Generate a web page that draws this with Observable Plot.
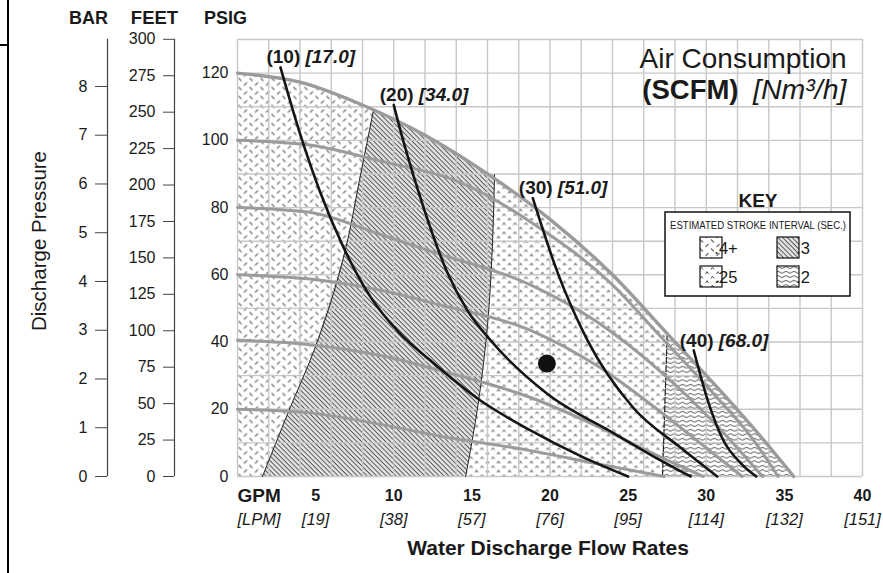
<!DOCTYPE html>
<html><head><meta charset="utf-8">
<script src="https://cdn.jsdelivr.net/npm/d3@7"></script>
<script src="https://cdn.jsdelivr.net/npm/@observablehq/plot@0.6"></script>
<style>
body{margin:0;background:#fff;}
#wrap{position:relative;width:883px;height:573px;overflow:hidden;}
#wrap svg{display:block;}
.edge{position:absolute;background:#000;}
</style></head><body>
<div id="wrap"></div>
<script>
// ---------- axis ticks & labels ----------
const psigTicks = [0, 20, 40, 60, 80, 100, 120];
const feetTicks = [0, 25, 50, 75, 100, 125, 150, 175, 200, 225, 250, 275, 300];
const barTicks = [0, 1, 2, 3, 4, 5, 6, 7, 8];
const gpmTicks = [5, 10, 15, 20, 25, 30, 35, 40];
const lpmLabels = ["[19]", "[38]", "[57]", "[76]", "[95]", "[114]", "[132]", "[151]"];
const gridGpm = [0, 2, 4, 6, 8, 10, 12, 14, 16, 18, 20, 22, 24, 26, 28, 30, 32, 34, 36, 38, 40];
const gridPsi = [0, 10, 20, 30, 40, 50, 60, 70, 80, 90, 100, 110, 120, 130];
const FT_PER_PSI = 2.3067;
const PSI_PER_BAR = 14.5038;

// ---------- performance envelope (GPM, PSIG) ----------
const envelope = [[0,120],[4,117.3],[8,110.5],[12,101.5],[16,90],[20,76.5],[24,60],[27.5,42.5],[31,25],[33.5,11.8],[35.6,0]];

// ---------- air supply pressure lines (GPM, PSIG) ----------
const air100 = [[0,100],[4.5,98.7],[9,94],[14.5,87],[19,75],[24,57],[27,42],[30.5,24.5],[33,11],[34.6,0]];
const air80  = [[0,80],[4.5,78.7],[9.15,72],[12.35,67],[18.75,57],[23,46],[27,31.5],[30.5,16],[33.6,0]];
const air60  = [[0,60],[4.5,58.8],[9.15,55.4],[13,51],[18.75,43.5],[23,33],[27,19.5],[30,8.5],[32.3,0]];
const air40  = [[0,40.5],[4.5,39.3],[9.15,36],[13,31.5],[18.75,23.5],[23,15],[26.5,7],[29.8,0]];
const air20  = [[0,20],[4.5,19],[9.15,15.5],[13,12],[18.75,7.7],[23,3.8],[27.3,0]];

// ---------- air consumption lines (GPM, PSIG) ----------
const scfm10 = [[2.75,121.7],[4,102],[5.3,84.5],[6.8,68],[8.5,53.5],[10.3,43],[12.35,34.5],[15.55,22.6],[18.75,13.7],[22,6],[25,0]];
const scfm20 = [[10,110.5],[10.6,100],[11.9,80.1],[13.4,61],[14.7,49.5],[16.2,40.5],[19.8,24.7],[24.1,12.8],[26.5,6.3],[29,0]];
const scfm30 = [[18.9,82.8],[20.5,60.5],[22.4,40.5],[25.3,20.6],[28.35,8.6],[30.7,0]];
const scfm40 = [[29.2,37.5],[30.1,22.6],[31.1,10.7],[32.2,4],[33.2,0]];
const scfmLabels = ["(10)", "(20)", "(30)", "(40)"];
const nm3Labels = ["[17.0]", "[34.0]", "[51.0]", "[68.0]"];

// ---------- stroke interval zone boundaries (top on envelope -> bottom) ----------
const bound1 = [[8.7,108.9],[7.8,88],[6.9,67.3],[4.9,37.5],[3.3,19.7],[1.6,0]];
const bound2 = [[16.45,89.8],[16.3,67],[16.0,45],[15.4,21.5],[14.6,0]];
const bound3 = [[27.5,42.5],[27.2,0]];
const keyLabels = [".4+", ".3", ".25", ".2"];
const examplePoint = [[19.8, 33.6]];

// ---------- build zone polygons from the arrays ----------
const envBetween = (a, b) => envelope.filter(p => p[0] > a && p[0] < b);
const zone4 = [[0,0], ...envelope.filter(p => p[0] < bound1[0][0]), ...bound1];
const zone3 = [...envBetween(bound1[0][0], bound2[0][0]), ...bound2, ...bound1.slice().reverse()];
const zone25 = [bound2[0], ...envBetween(bound2[0][0], bound3[0][0]), ...bound3, ...bound2.slice().reverse()];
const zone2 = [bound3[0], ...envelope.filter(p => p[0] > bound3[0][0]), ...bound3.slice().reverse()];

const labelRows = [scfm10, scfm20, scfm30, scfm40].map((s, i) => ({pt: s[0], a: scfmLabels[i], b: nm3Labels[i]}));
const X = d => d[0], Y = d => d[1];
const GRAY = "#9b9b9b", BLACK = "#151515";
const mid = {textAnchor: "middle", lineAnchor: "middle"};

const chart = Plot.plot({
  width: 883, height: 573,
  marginLeft: 237, marginRight: 21, marginTop: 39, marginBottom: 97,
  x: {domain: [0, 40], axis: null},
  y: {domain: [0, 130], axis: null},
  style: {fontFamily: "'Liberation Sans', Arial, Helvetica, sans-serif", fontSize: "16px", color: "#1a1a1a", background: "white", overflow: "visible"},
  marks: [
    // patterned zones
    Plot.line(zone4, {x: X, y: Y, fill: "url(#p4)", stroke: "none"}),
    Plot.line(zone3, {x: X, y: Y, fill: "url(#p3)", stroke: "none"}),
    Plot.line(zone25, {x: X, y: Y, fill: "url(#p25)", stroke: "none"}),
    Plot.line(zone2, {x: X, y: Y, fill: "url(#p2)", stroke: "none"}),
    // grid
    Plot.ruleX(gridGpm, {stroke: "#c8c8c8", strokeWidth: 1.4}),
    Plot.ruleY(gridPsi, {stroke: "#c8c8c8", strokeWidth: 1.4}),
    // zone boundaries
    Plot.line(bound1, {x: X, y: Y, stroke: "#222", strokeWidth: 1, curve: "monotone-y"}),
    Plot.line(bound2, {x: X, y: Y, stroke: "#222", strokeWidth: 1, curve: "monotone-y"}),
    Plot.line(bound3, {x: X, y: Y, stroke: "#222", strokeWidth: 1.2, strokeDasharray: "6,2"}),
    // air supply lines + envelope
    ...[air20, air40, air60, air80, air100].map(s => Plot.line(s, {x: X, y: Y, stroke: GRAY, strokeWidth: 3, curve: "monotone-x"})),
    Plot.line(envelope, {x: X, y: Y, stroke: GRAY, strokeWidth: 3.4, curve: "monotone-x"}),
    // air consumption lines
    ...[scfm10, scfm20, scfm30, scfm40].map(s => Plot.line(s, {x: X, y: Y, stroke: BLACK, strokeWidth: 2.6, curve: "monotone-x"})),
    Plot.dot(examplePoint, {x: X, y: Y, r: 9, fill: "#111", stroke: "none"}),
    Plot.text(labelRows, {x: d => d.pt[0], y: d => d.pt[1], text: "a", textAnchor: "start", lineAnchor: "middle", dx: -14, dy: -10, fontWeight: "bold", fontSize: 19}),
    Plot.text(labelRows, {x: d => d.pt[0], y: d => d.pt[1], text: "b", textAnchor: "start", lineAnchor: "middle", dx: 25, dy: -10, fontWeight: "bold", fontStyle: "italic", fontSize: 19}),
    // left axes
    Plot.axisY(psigTicks, {anchor: "left", tickSize: 0, tickPadding: 9, fontSize: 16, label: null}),
    Plot.axisY(feetTicks.map(f => f / FT_PER_PSI), {anchor: "left", tickSize: 11, tickPadding: 8, dx: -63, tickFormat: d => Math.round(d * FT_PER_PSI), fontSize: 16, label: null, stroke: "#444"}),
    Plot.axisY(barTicks.map(b => b * PSI_PER_BAR), {anchor: "left", tickSize: 12, tickPadding: 8, dx: -130, tickFormat: d => Math.round(d / PSI_PER_BAR), fontSize: 16, label: null, stroke: "#444"}),
    Plot.ruleX([0], {y1: 0, y2: 300 / FT_PER_PSI, dx: -63, stroke: "#444", strokeWidth: 1.2}),
    Plot.ruleX([0], {y1: 0, y2: 300 / FT_PER_PSI, dx: -130, stroke: "#444", strokeWidth: 1.2}),
    Plot.text(["BAR"], {frameAnchor: "top-left", ...mid, dx: -149, dy: -21, fontWeight: "bold", fontSize: 18}),
    Plot.text(["FEET"], {frameAnchor: "top-left", ...mid, dx: -83, dy: -21, fontWeight: "bold", fontSize: 18.5}),
    Plot.text(["PSIG"], {frameAnchor: "top-left", ...mid, dx: -12, dy: -21, fontWeight: "bold", fontSize: 18}),
    Plot.text(["Discharge Pressure"], {frameAnchor: "left", ...mid, dx: -198, dy: -17, rotate: -90, fontSize: 20.5}),
    // bottom axis
    Plot.text(gpmTicks, {x: d => d, frameAnchor: "bottom", ...mid, dy: 19, fontWeight: "bold", fontSize: 16}),
    Plot.text(gpmTicks, {x: d => d, text: (d, i) => lpmLabels[i], frameAnchor: "bottom", ...mid, dy: 43, fontStyle: "italic", fontSize: 16.5}),
    Plot.text(["GPM"], {frameAnchor: "bottom-left", textAnchor: "start", lineAnchor: "middle", dy: 19, fontWeight: "bold", fontSize: 19}),
    Plot.text(["[LPM]"], {frameAnchor: "bottom-left", textAnchor: "start", lineAnchor: "middle", dy: 43, fontStyle: "italic", fontSize: 16.5}),
    Plot.text(["Water Discharge Flow Rates"], {frameAnchor: "bottom", ...mid, dx: -2, dy: 72, fontWeight: "bold", fontSize: 21}),
    // title
    Plot.text(["Air Consumption"], {frameAnchor: "top-right", textAnchor: "end", lineAnchor: "bottom", dx: -16, dy: 28, fontSize: 28}),
    Plot.text(["(SCFM)"], {frameAnchor: "top-right", textAnchor: "end", lineAnchor: "bottom", dx: -124, dy: 59, fontSize: 27.5, fontWeight: "bold"}),
    Plot.text(["[Nm³/h]"], {frameAnchor: "top-right", textAnchor: "end", lineAnchor: "bottom", dx: -16, dy: 59, fontSize: 28.5, fontStyle: "italic"})
  ]
});

// ---------- fill patterns ----------
const svg = d3.select(chart);
const defs = svg.insert("defs", ":first-child");
const p4 = defs.append("pattern").attr("id", "p4").attr("patternUnits", "userSpaceOnUse").attr("width", 11).attr("height", 9);
p4.append("path").attr("d", "M1.5,4L4.5,1M7,5.5L10,8.5").attr("stroke", "#6a6a6a").attr("stroke-width", 1.1).attr("fill", "none");
const p3 = defs.append("pattern").attr("id", "p3").attr("patternUnits", "userSpaceOnUse").attr("width", 3.4).attr("height", 3.4).attr("patternTransform", "rotate(-45)");
p3.append("rect").attr("width", 3.4).attr("height", 3.4).attr("fill", "#e4e4e4");
p3.append("line").attr("x1", 1.2).attr("x2", 1.2).attr("y1", 0).attr("y2", 3.4).attr("stroke", "#4a4a4a").attr("stroke-width", 0.9);
const p25 = defs.append("pattern").attr("id", "p25").attr("patternUnits", "userSpaceOnUse").attr("width", 11).attr("height", 9);
p25.append("path").attr("d", "M1.5,4L3,1.6L4.5,4M7,8.5L8.5,6.1L10,8.5").attr("stroke", "#555").attr("stroke-width", 1).attr("fill", "none");
const p2 = defs.append("pattern").attr("id", "p2").attr("patternUnits", "userSpaceOnUse").attr("width", 8).attr("height", 4.5);
p2.append("path").attr("d", "M0,2.2Q2,0.2 4,2.2T8,2.2").attr("stroke", "#3a3a3a").attr("stroke-width", 0.9).attr("fill", "none");

// ---------- KEY ----------
const key = svg.append("g").attr("font-family", "'Liberation Sans', Arial, sans-serif").attr("fill", "#1a1a1a");
key.append("text").attr("x", 758).attr("y", 207).attr("text-anchor", "middle").attr("font-weight", "bold").attr("font-size", 19).text("KEY");
key.append("rect").attr("x", 665).attr("y", 212).attr("width", 185).attr("height", 84).attr("fill", "white").attr("stroke", "#111").attr("stroke-width", 1.5);
key.append("text").attr("x", 758).attr("y", 229).attr("text-anchor", "middle").attr("font-size", 11.5)
  .attr("textLength", 176).attr("lengthAdjust", "spacingAndGlyphs").text("ESTIMATED STROKE INTERVAL (SEC.)");
["p4", "p3", "p25", "p2"].forEach((id, i) => {
  const x = i % 2 ? 777 : 700, y = i < 2 ? 237 : 266;
  key.append("rect").attr("x", x).attr("y", y).attr("width", 22).attr("height", 21).attr("fill", `url(#${id})`).attr("stroke", "#111").attr("stroke-width", 1.2);
  key.append("text").attr("x", x + 26).attr("y", y + 17).attr("font-size", 16.5).text(keyLabels[i]);
});

const wrap = document.getElementById("wrap");
wrap.appendChild(chart);
const e1 = document.createElement("div"); e1.className = "edge"; Object.assign(e1.style, {left: "7px", top: "0px", width: "2px", height: "573px"});
const e2 = document.createElement("div"); e2.className = "edge"; Object.assign(e2.style, {left: "0px", top: "44px", width: "9px", height: "2px"});
wrap.appendChild(e1); wrap.appendChild(e2);
</script>
</body></html>
